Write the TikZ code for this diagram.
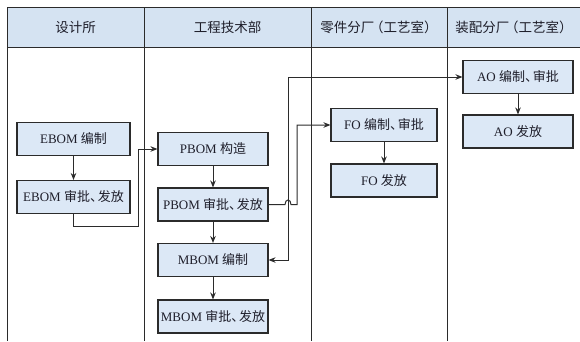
\documentclass[tikz,border=0pt]{standalone}
\usepackage{fontspec}
\setmainfont{Liberation Serif}
\newfontfamily\cjk{Noto Sans CJK SC}
\usetikzlibrary{arrows.meta}
\definecolor{hdr}{HTML}{D5E3F2}
\definecolor{boxfill}{HTML}{DCE8F6}
\definecolor{ln}{HTML}{2B2B2B}
\definecolor{txt}{HTML}{1E1E2A}
\newcommand{\zh}[1]{{\cjk #1}}
\newcommand{\dun}{、\kern-0.4em}
\newcommand{\lpar}{\kern-0.3em（}
\begin{document}
\begin{tikzpicture}[x=1pt,y=-1pt,
  flowbox/.style={draw=ln, line width=1.1pt, fill=boxfill, minimum height=33pt, inner sep=0pt, font=\fontsize{13}{15}\selectfont, text=txt},
  arr/.style={draw=ln, line width=1pt, -{Stealth[length=7pt,width=5.5pt]}},
  dblarr/.style={draw=ln, line width=1pt, {Stealth[length=7pt,width=5.5pt]}-{Stealth[length=7pt,width=5.5pt]}},
  gridline/.style={draw=ln, line width=0.9pt},
  hdrtext/.style={font=\fontsize{13.5}{16}\selectfont, text=txt}
]
\useasboundingbox (0,0) rectangle (580,341);
% table
\fill[hdr] (7,7) rectangle (580,47);
\draw[gridline] (7,7) -- (580,7);
\draw[gridline] (7,47) -- (580,47);
\foreach \x in {7,144,311,447} \draw[gridline] (\x,7) -- (\x,341);
% headers
\node[hdrtext] (h1) at (75.5,27) {\zh{设计所}};
\node[hdrtext] (h2) at (227.5,27) {\zh{工程技术部}};
\node[hdrtext] (h3) at (379,27) {\zh{零件分厂\lpar 工艺室）}};
\node[hdrtext] (h4) at (514,27) {\zh{装配分厂\lpar 工艺室）}};
% boxes
\node[flowbox, minimum width=113pt] (e1) at (73.5,139) {EBOM \zh{编制}};
\node[flowbox, minimum width=113pt] (e2) at (73.5,197) {EBOM \zh{审批\dun 发放}};
\node[flowbox, minimum width=110pt] (p1) at (213,149) {PBOM \zh{构造}};
\node[flowbox, minimum width=110pt] (p2) at (213,204.5) {PBOM \zh{审批\dun 发放}};
\node[flowbox, minimum width=110pt] (m1) at (213,260) {MBOM \zh{编制}};
\node[flowbox, minimum width=110pt] (m2) at (213,316.5) {MBOM \zh{审批\dun 发放}};
\node[flowbox, minimum width=106pt] (f1) at (384,125) {FO \zh{编制\dun 审批}};
\node[flowbox, minimum width=106pt] (f2) at (384,180.5) {FO \zh{发放}};
\node[flowbox, minimum width=110pt] (a1) at (518,77) {AO \zh{编制\dun 审批}};
\node[flowbox, minimum width=110pt] (a2) at (518,131.5) {AO \zh{发放}};
% connectors
\draw[arr] (e1) -- (e2);
\coordinate (c1) at (138,226);
\draw[arr] (e2.south) |- (c1) |- (p1.west);
\draw[arr] (p1) -- (p2);
\draw[arr] (p2) -- (m1);
\draw[arr] (m1) -- (m2);
\draw[arr] (f1) -- (f2);
\draw[arr] (a1) -- (a2);
\coordinate (hopL) at (285,204.5);
\coordinate (hopR) at (291,204.5);
\coordinate (c2) at (297,204.5);
\draw[arr] (p2.east) -- (hopL) .. controls +(0,-6) and +(0,-6) .. (hopR) -- (c2) |- (f1.west);
\coordinate (c3) at (288,77);
\draw[dblarr] (m1.east) -| (c3) -- (a1.west);
\end{tikzpicture}
\end{document}
